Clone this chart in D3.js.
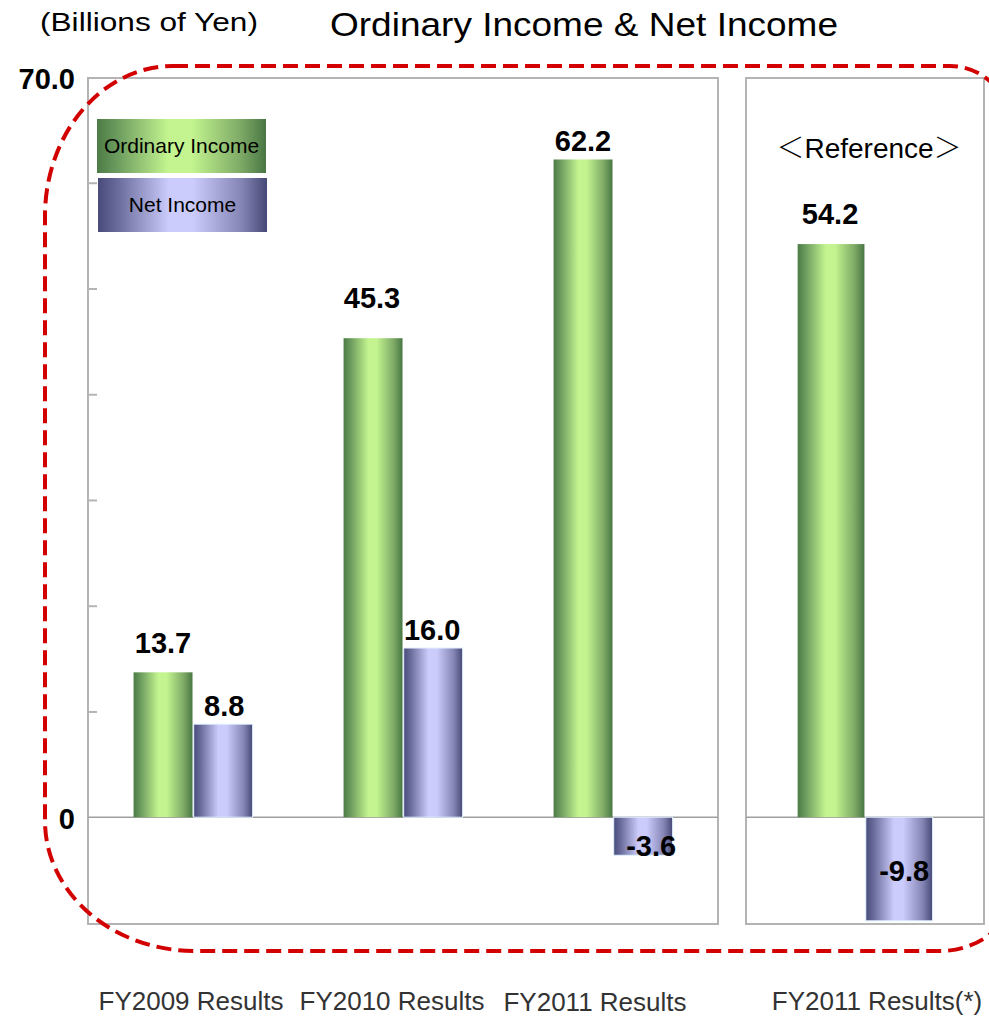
<!DOCTYPE html>
<html>
<head>
<meta charset="utf-8">
<script src="https://cdn.jsdelivr.net/npm/d3@7/dist/d3.min.js"></script>
<style>
  html, body { margin: 0; padding: 0; background: #fff; }
  svg { display: block; font-family: "Liberation Sans", Arial, Helvetica, sans-serif; }
</style>
</head>
<body>
<svg id="chart" width="989" height="1017"></svg>
<script>
// ---- data ----
const categories = ["FY2009 Results", "FY2010 Results", "FY2011 Results"];
const refCategories = ["FY2011 Results(*)"];
const seriesNames = ["Ordinary Income", "Net Income"];
const ordinaryIncome = [13.7, 45.3, 62.2];
const netIncome = [8.8, 16.0, -3.6];
const refOrdinaryIncome = [54.2];
const refNetIncome = [-9.8];
const yTickValues = [0, 10, 20, 30, 40, 50, 60, 70];
const yTickLabels = ["0", "", "", "", "", "", "", "70.0"];
const titleText = "Ordinary Income & Net Income";
const unitText = "(Billions of Yen)";
const referenceParts = ["＜", "Reference", "＞"];

// ---- styling / manual nudges (not data) ----
const labelNudgeMain = [ // [dx, dy] per category for [OI, NI]
  [[0, -19], [1, -8]],
  [[-1, -30], [-1, -8]],
  [[0, -8], [8, 0]]
];
const labelNudgeRef = [[[-1, -20], [5, 0]]];
const xLabelNudge = [-2, -11, -18, 12];
const xLabelBaseline = [1010, 1010, 1011, 1010];

const svg = d3.select("#chart");
const defs = svg.append("defs");

function grad(id, stops) {
  const g = defs.append("linearGradient").attr("id", id)
    .attr("x1", "0").attr("x2", "1").attr("y1", "0").attr("y2", "0");
  stops.forEach(s => g.append("stop").attr("offset", s[0]).attr("stop-color", s[1]));
}
grad("gGreen", [[0, "#4c7b45"], [0.12, "#6c9c5e"], [0.42, "#c3f48f"], [0.56, "#c3f48f"], [0.85, "#7eaa66"], [1, "#497743"]]);
grad("gPurple", [[0, "#494b7b"], [0.12, "#6a6c9c"], [0.42, "#cbccfc"], [0.56, "#cbccfc"], [0.85, "#8485b4"], [1, "#464875"]]);
const fills = ["url(#gGreen)", "url(#gPurple)"];

// ---- scales ----
const y = d3.scaleLinear().domain([-10.1, 70]).range([924, 77]);
const xMain = d3.scaleBand().domain(categories).range([88, 718]);
const xRef = d3.scaleBand().domain(refCategories).range([746, 984]);

function inner(band) {
  const bw = band.bandwidth();
  return d3.scaleBand().domain(seriesNames).range([bw * 0.217, bw * 0.784]).paddingInner(0.02);
}

// ---- panels ----
function panel(xs) {
  const [x0, x1] = xs.range();
  const g = svg.append("g");
  g.append("rect")
    .attr("x", x0).attr("y", y(70) + 1)
    .attr("width", x1 - x0).attr("height", y(-10.1) - y(70) - 1)
    .attr("fill", "#fff").attr("stroke", "#b4b4b4").attr("stroke-width", 2);
  g.append("line")
    .attr("x1", x0).attr("x2", x1).attr("y1", y(0)).attr("y2", y(0))
    .attr("stroke", "#a0a0a0").attr("stroke-width", 1.5);
  return g;
}
const mainPanel = panel(xMain);
const refPanel = panel(xRef);

// y axis inner ticks
const yAxis = d3.axisRight(y).tickValues(yTickValues.filter(v => v > 0 && v < 70)).tickSize(9).tickFormat("");
const axG = svg.append("g").attr("transform", `translate(88,0)`).call(yAxis);
axG.select(".domain").remove();
axG.selectAll(".tick line").attr("stroke", "#b4b4b4").attr("stroke-width", 2);

// y labels
svg.append("g").selectAll("text")
  .data(yTickValues.map((v, i) => ({ v, t: yTickLabels[i] })).filter(d => d.t))
  .join("text")
  .attr("x", 75).attr("y", d => y(d.v) + 12)
  .attr("text-anchor", "end").attr("font-weight", "bold").attr("font-size", 29)
  .attr("fill", "#000").text(d => d.t);

// ---- bars ----
function drawBars(xs, oi, ni, nudges) {
  const xi = inner(xs);
  const rows = [];
  xs.domain().forEach((c, i) => {
    [oi[i], ni[i]].forEach((v, j) => rows.push({ c, i, j, v, s: seriesNames[j] }));
  });
  const g = svg.append("g");
  g.selectAll("rect").data(rows).join("rect")
    .attr("x", d => xs(d.c) + xi(d.s))
    .attr("width", xi.bandwidth())
    .attr("y", d => y(Math.max(0, d.v)))
    .attr("height", d => Math.abs(y(d.v) - y(0)))
    .attr("fill", d => fills[d.j])
    .attr("stroke", d => d.j === 1 ? "#e2f3ff" : "none")
    .attr("stroke-width", 1);
  g.selectAll("text").data(rows).join("text")
    .attr("x", d => xs(d.c) + xi(d.s) + xi.bandwidth() / 2 + nudges[d.i][d.j][0])
    .attr("y", d => d.v >= 0 ? y(d.v) + nudges[d.i][d.j][1] : y(d.v) + 1 + nudges[d.i][d.j][1] - (d.v < -5 ? 41 : 0))
    .attr("text-anchor", "middle").attr("font-weight", "bold").attr("font-size", 29)
    .attr("fill", "#000")
    .text(d => d.v.toFixed(1));
}
drawBars(xMain, ordinaryIncome, netIncome, labelNudgeMain);
drawBars(xRef, refOrdinaryIncome, refNetIncome, labelNudgeRef);

// reference heading
const refT = svg.append("text")
  .attr("x", xRef(refCategories[0]) + xRef.bandwidth() / 2 + 4).attr("y", 158)
  .attr("text-anchor", "middle").attr("font-size", 28).attr("fill", "#000");
referenceParts.forEach((t, i) => {
  refT.append("tspan")
    .attr("font-family", i === 1 ? "'Liberation Sans', Arial, sans-serif" : "'Noto Sans CJK JP', sans-serif")
    .attr("font-weight", i === 1 ? "normal" : "300")
    .text(t);
});

// ---- legend ----
const legend = svg.append("g");
const legendBoxes = [{ x: 97, y: 119 }, { x: 98, y: 178 }];
seriesNames.forEach((s, j) => {
  legend.append("rect")
    .attr("x", legendBoxes[j].x).attr("y", legendBoxes[j].y)
    .attr("width", 169).attr("height", 54)
    .attr("fill", fills[j]);
  legend.append("text")
    .attr("x", legendBoxes[j].x + 84.5).attr("y", legendBoxes[j].y + 34)
    .attr("text-anchor", "middle").attr("font-size", 21).attr("fill", "#000")
    .text(s);
});

// ---- red dashed rounded outline ----
(function () {
  const L = 45, T = 66, R = 1010, B = 951;
  const tl = [128, 150], bl = [150, 130], tr = [60, 60], br = [70, 56];
  const d = [
    `M${L + tl[0]},${T}`,
    `L${R - tr[0]},${T}`,
    `A${tr[0]},${tr[1]} 0 0 1 ${R},${T + tr[1]}`,
    `L${R},${B - br[1]}`,
    `A${br[0]},${br[1]} 0 0 1 ${R - br[0]},${B}`,
    `L${L + bl[0]},${B}`,
    `A${bl[0]},${bl[1]} 0 0 1 ${L},${B - bl[1]}`,
    `L${L},${T + tl[1]}`,
    `A${tl[0]},${tl[1]} 0 0 1 ${L + tl[0]},${T}`,
    "Z"
  ].join(" ");
  svg.append("path").attr("d", d)
    .attr("fill", "none").attr("stroke", "#d20000").attr("stroke-width", 4)
    .attr("stroke-dasharray", "15 7");
})();

// ---- x labels ----
const allCats = categories.map(c => ({ c, sc: xMain })).concat(refCategories.map(c => ({ c, sc: xRef })));
svg.append("g").selectAll("text").data(allCats).join("text")
  .attr("x", (d, i) => d.sc(d.c) + d.sc.bandwidth() / 2 + xLabelNudge[i])
  .attr("y", (d, i) => xLabelBaseline[i])
  .attr("text-anchor", "middle").attr("font-size", 26).attr("fill", "#333")
  .text(d => d.c);

// ---- titles ----
svg.append("text").attr("x", 330).attr("y", 36)
  .attr("font-size", 33).attr("fill", "#000")
  .attr("textLength", 508).attr("lengthAdjust", "spacingAndGlyphs")
  .text(titleText);
svg.append("text").attr("x", 40).attr("y", 31)
  .attr("font-size", 26).attr("fill", "#000")
  .attr("textLength", 218).attr("lengthAdjust", "spacingAndGlyphs")
  .text(unitText);
</script>
</body>
</html>
